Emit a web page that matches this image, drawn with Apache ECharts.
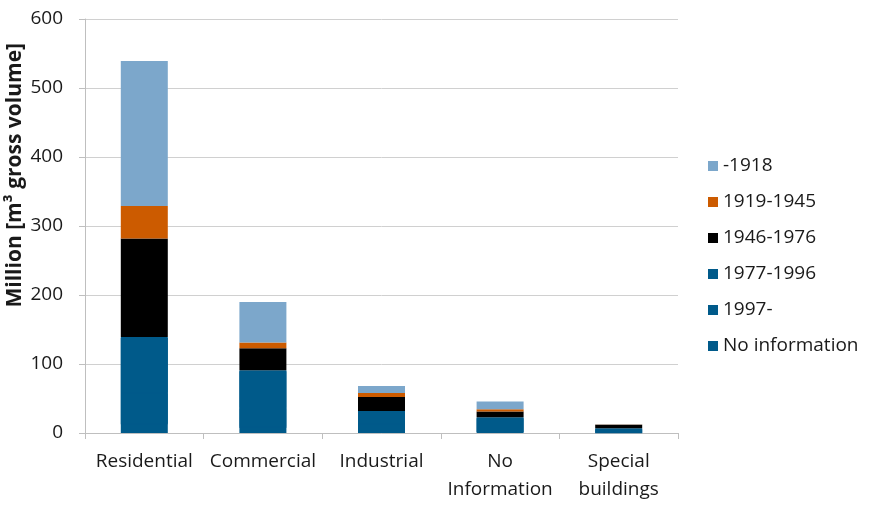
<!DOCTYPE html>
<html>
<head>
<meta charset="utf-8">
<script src="https://cdn.jsdelivr.net/npm/echarts@6/dist/echarts.min.js"></script>
<style>
  html, body { margin: 0; padding: 0; background: #fff; }
  #chart { width: 874px; height: 506px; }
</style>
</head>
<body>
<div id="chart"></div>
<script>
// Building stock by use type, split by construction period (million m³ gross volume)
const categories = ['Residential', 'Commercial', 'Industrial', 'No\nInformation', 'Special\nbuildings'];

const noInformation = [14, 9, 4, 3, 1];
const from1997      = [45, 28, 10, 7, 2];
const p1977to1996   = [80, 54, 18, 13, 4];
const p1946to1976   = [143, 32, 20, 8, 5];
const p1919to1945   = [47, 8, 6, 3.5, 0.3];
const until1918     = [210, 59, 10, 11, 0.5];

const yTicks = [0, 100, 200, 300, 400, 500, 600];

const FONT = '"Open Sans"';
const TEXT = '#1a1a1a';
const DARK_BLUE = '#005A8A';

// stacked bottom to top; `seal` closes the anti-aliasing seam against the segment below
const seriesDefs = [
  { name: 'No information', data: noInformation, color: DARK_BLUE, seal: false },
  { name: '1997-',          data: from1997,      color: DARK_BLUE, seal: true },
  { name: '1977-1996',      data: p1977to1996,   color: DARK_BLUE, seal: true },
  { name: '1946-1976',      data: p1946to1976,   color: '#000000', seal: false },
  { name: '1919-1945',      data: p1919to1945,   color: '#CC5B00', seal: false },
  { name: '-1918',          data: until1918,     color: '#7CA7CB', seal: false }
];

const chart = echarts.init(document.getElementById('chart'), null, { renderer: 'canvas' });

chart.setOption({
  animation: false,
  backgroundColor: '#ffffff',
  textStyle: { fontFamily: FONT, color: TEXT },
  grid: { left: 85, right: 196, top: 19, bottom: 73, containLabel: false },
  legend: {
    orient: 'vertical',
    left: 703,
    top: 151,
    data: ['-1918', '1919-1945', '1946-1976', '1977-1996', '1997-', 'No information'],
    icon: 'rect',
    itemWidth: 10,
    itemHeight: 10,
    itemGap: 16,
    textStyle: { fontFamily: FONT, fontSize: 19, color: TEXT, lineHeight: 20 }
  },
  xAxis: {
    type: 'category',
    data: categories,
    axisLine: { show: true, lineStyle: { color: '#bfbfbf', width: 1 } },
    axisTick: { show: true, alignWithLabel: false, length: 6, lineStyle: { color: '#bfbfbf' } },
    axisLabel: {
      fontFamily: FONT, fontSize: 19, color: TEXT, lineHeight: 28, margin: 15, interval: 0
    },
    splitLine: { show: false }
  },
  yAxis: {
    type: 'value',
    min: yTicks[0],
    max: yTicks[yTicks.length - 1],
    interval: 100,
    axisLine: { show: true, lineStyle: { color: '#bfbfbf', width: 1 } },
    axisTick: { show: true, length: 6, lineStyle: { color: '#bfbfbf' } },
    axisLabel: { fontFamily: FONT, fontSize: 19, color: TEXT, margin: 22 },
    splitLine: { show: true, lineStyle: { color: '#d0d0d0', width: 1 } }
  },
  graphic: [{
    type: 'text',
    left: 5,
    top: 43,
    rotation: Math.PI / 2,
    style: {
      text: 'Million [m³ gross volume]',
      font: 'bold 21px ' + FONT,
      fill: TEXT
    }
  }],
  series: seriesDefs.map(s => ({
    name: s.name,
    type: 'bar',
    stack: 'total',
    barWidth: 47,
    data: s.data,
    itemStyle: s.seal
      ? { color: s.color, shadowColor: s.color, shadowBlur: 0, shadowOffsetX: 0, shadowOffsetY: 1 }
      : { color: s.color }
  }))
});
</script>
</body>
</html>
